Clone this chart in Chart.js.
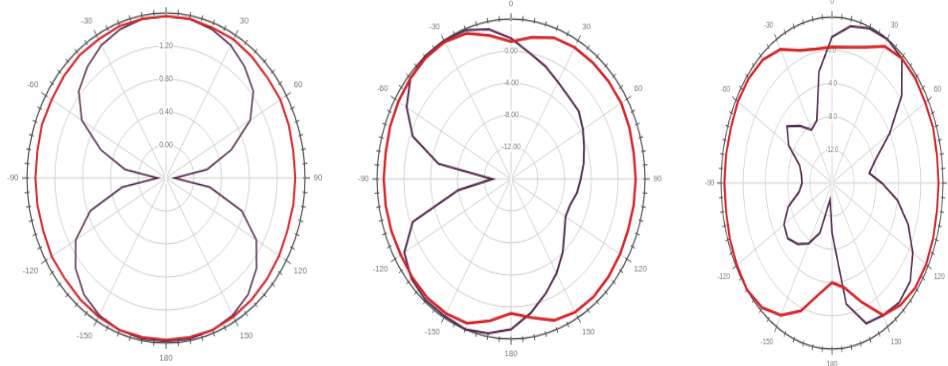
<!DOCTYPE html>
<html>
<head>
<meta charset="utf-8">
<script src="https://cdn.jsdelivr.net/npm/chart.js@4.4.0/dist/chart.umd.min.js"></script>
<style>
  html, body { margin: 0; padding: 0; background: #fff; width: 948px; height: 366px; overflow: hidden; }
  .plot { position: absolute; left: 0; top: 0; width: 320px; height: 320px; transform-origin: 0 0; }
</style>
</head>
<body>
<div class="plot" id="p1"><canvas id="c1"></canvas></div>
<div class="plot" id="p2"><canvas id="c2"></canvas></div>
<div class="plot" id="p3"><canvas id="c3"></canvas></div>
<script>
// angle categories, 10 deg apart, clockwise from top
const ANGLES = [0, 10, 20, 30, 40, 50, 60, 70, 80, 90, 100, 110, 120, 130, 140, 150, 160, 170,
  180, -170, -160, -150, -140, -130, -120, -110, -100, -90, -80, -70, -60, -50, -40, -30, -20, -10];

// pattern 1 (linear scale)
const p1Purple = [1.56, 1.56, 1.52, 1.46, 1.36, 1.24, 1.00, 0.60, 0.20, -0.28, 0.24, 0.76, 1.10, 1.30, 1.44, 1.52, 1.56, 1.58,
  1.58, 1.58, 1.56, 1.52, 1.44, 1.30, 1.10, 0.76, 0.24, -0.28, 0.20, 0.60, 1.00, 1.24, 1.36, 1.46, 1.52, 1.56];
const p1Red = [1.56, 1.56, 1.54, 1.54, 1.52, 1.50, 1.50, 1.48, 1.46, 1.46, 1.46, 1.46, 1.48, 1.50, 1.52, 1.54, 1.56, 1.56,
  1.56, 1.56, 1.56, 1.54, 1.52, 1.50, 1.50, 1.48, 1.48, 1.48, 1.48, 1.50, 1.50, 1.52, 1.54, 1.54, 1.56, 1.56];
const p1Ticks = { min: -0.4, max: 1.6, step: 0.4, digits: 2 };

// pattern 2 (dB)
const p2Purple = [1.6, 0, -1, -2, -2.6, -2.8, -3.6, -4.4, -5, -5.6, -6, -6.6, -6.6, -5.6, -4, -2.4, -0.8, 1,
  2.8, 3.6, 4, 3.8, 3.8, 3.4, 2.4, -0.4, -8, -13.2, -5, -0.4, 2, 3.6, 4, 4, 3.8, 3];
const p2Red = [1.2, 2, 2.8, 3, 3, 3, 3, 2.8, 2.6, 2.6, 2.6, 2.6, 2.8, 3, 3.2, 3.2, 2.8, 1.6,
  0.8, 2, 3.2, 3.4, 3.4, 3.2, 3, 3, 3, 3, 3, 3.2, 3.4, 3.6, 3.8, 3.8, 3.4, 2.2];
const p2Ticks = { min: -16, max: 4, step: 4, digits: 2 };

// pattern 3 (dB)
const p3Purple = [1.6, 3.2, 3.8, 4, 3.6, 0.4, -4, -7.6, -9.2, -7, -4, -1.4, 0.8, 2.4, 2.8, 2.4, 2, -1.2,
  -10, -14, -9.6, -7.6, -6.4, -5.6, -6, -7.6, -10, -10.6, -10.4, -9.8, -7, -5.4, -7, -8.6, -8, -2.4];
const p3Red = [0.4, 0.6, 1.4, 3, 3.6, 3.6, 3.4, 3.4, 3.2, 3.2, 3.2, 3.4, 3.6, 3.6, 3.2, 2.4, -0.8, -3.2,
  -4, -2.4, 0.4, 2.4, 3.6, 4, 3.8, 3.6, 3.4, 3.4, 3.4, 3.4, 3.6, 3.6, 3.4, 2.6, 1, 0.4];
const p3Ticks = { min: -16, max: 4, step: 4, digits: 1 };

const COLORS = {
  purple: 'rgba(88, 44, 82, 1)',
  red: 'rgba(214, 36, 40, 1)',
  grid: 'rgba(210, 210, 210, 1)',
  rim: 'rgba(80, 80, 80, 1)',
  text: 'rgba(120, 120, 120, 1)'
};

// short marks round the outer ring, every 5 degrees
const rimTicks = {
  id: 'rimTicks',
  beforeDatasetsDraw(chart) {
    const s = chart.scales.r;
    const ctx = chart.ctx;
    const R = s.drawingArea;
    ctx.save();
    ctx.strokeStyle = COLORS.rim;
    ctx.lineWidth = 1;
    for (let k = 0; k < 72; k++) {
      const a = k * Math.PI / 36 - Math.PI / 2;
      const r0 = R - 2, r1 = R + (k % 6 === 0 ? 5 : 3);
      ctx.beginPath();
      ctx.moveTo(s.xCenter + r0 * Math.cos(a), s.yCenter + r0 * Math.sin(a));
      ctx.lineTo(s.xCenter + r1 * Math.cos(a), s.yCenter + r1 * Math.sin(a));
      ctx.stroke();
    }
    ctx.restore();
  }
};

function createPattern(canvasId, purple, red, t, width) {
  const ctx = document.getElementById(canvasId).getContext('2d');
  return new Chart(ctx, {
    type: 'radar',
    data: {
      labels: ANGLES,
      datasets: [
        { data: red, borderColor: COLORS.red, borderWidth: width + 0.5, fill: false, pointRadius: 0 },
        { data: purple, borderColor: COLORS.purple, borderWidth: width, fill: false, pointRadius: 0 }
      ]
    },
    options: {
      responsive: true,
      maintainAspectRatio: false,
      animation: false,
      layout: { padding: 0 },
      plugins: { legend: { display: false }, tooltip: { enabled: false } },
      elements: { line: { tension: 0 } },
      scales: {
        r: {
          min: t.min,
          max: t.max,
          grid: {
            circular: true,
            color: c => c.index === 5 ? COLORS.rim : COLORS.grid,
            lineWidth: c => c.index === 5 ? 1.2 : 1
          },
          angleLines: {
            color: c => c.index % 3 === 0 ? COLORS.grid : 'rgba(0,0,0,0)'
          },
          pointLabels: {
            callback: (label, i) => i % 3 === 0 ? String(label) : '',
            color: COLORS.text,
            font: { family: 'Liberation Sans', size: 8 },
            padding: 4
          },
          ticks: {
            stepSize: t.step,
            color: COLORS.text,
            font: { family: 'Liberation Sans', size: 7 },
            backdropColor: 'rgba(255,255,255,0.85)',
            backdropPadding: 1,
            callback: (v, i, arr) => (i === 0 || i === arr.length - 1) ? '' : Number(v).toFixed(t.digits)
          }
        }
      }
    },
    plugins: [rimTicks]
  });
}

// squeeze each round chart into the elliptical frame of the picture
function placeChart(chart, boxId, cx, cy, rx, ry) {
  const s = chart.scales.r;
  const sx = rx / s.drawingArea, sy = ry / s.drawingArea;
  const tx = cx - sx * s.xCenter, ty = cy - sy * s.yCenter;
  document.getElementById(boxId).style.transform =
    'translate(' + tx + 'px,' + ty + 'px) scale(' + sx + ',' + sy + ')';
}

const ch1 = createPattern('c1', p1Purple, p1Red, p1Ticks, 1.5);
const ch2 = createPattern('c2', p2Purple, p2Red, p2Ticks, 2);
const ch3 = createPattern('c3', p3Purple, p3Red, p3Ticks, 2);

placeChart(ch1, 'p1', 166, 178, 139, 165);
placeChart(ch2, 'p2', 511, 179, 134, 160);
placeChart(ch3, 'p3', 832, 183, 111, 166);
</script>
</body>
</html>
